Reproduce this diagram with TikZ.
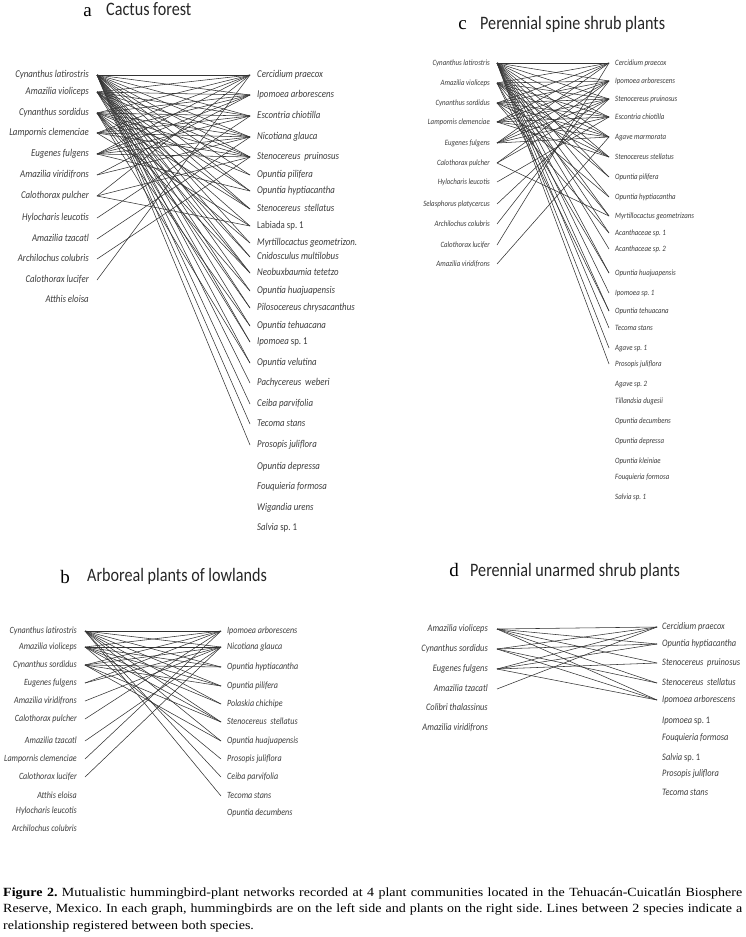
\documentclass[tikz,border=0pt]{standalone}
\usepackage{fontspec}
\setmainfont{Liberation Serif}
\newfontfamily\calf[FakeStretch=0.85]{Carlito}
\newfontfamily\capf[FakeStretch=1.12]{Liberation Serif}
\definecolor{lab}{HTML}{3C3C3C}
\frenchspacing
\tikzset{
  lbl/.style={font=\calf\itshape, text=lab, inner sep=0pt, text height=0.68em, text depth=0.2em},
  lfa/.style={lbl, anchor=east, font=\calf\itshape\fontsize{10.4}{12}\selectfont},
  rfa/.style={lbl, anchor=west, font=\calf\itshape\fontsize{10.4}{12}\selectfont},
  lfb/.style={lbl, anchor=east, font=\calf\itshape\fontsize{9.5}{11}\selectfont},
  rfb/.style={lbl, anchor=west, font=\calf\itshape\fontsize{9.5}{11}\selectfont},
  lfc/.style={lbl, anchor=east, font=\calf\itshape\fontsize{8.1}{10}\selectfont},
  rfc/.style={lbl, anchor=west, font=\calf\itshape\fontsize{8.1}{10}\selectfont},
  lfd/.style={lbl, anchor=east, font=\calf\itshape\fontsize{9.9}{11}\selectfont},
  rfd/.style={lbl, anchor=west, font=\calf\itshape\fontsize{9.9}{11}\selectfont},
  link/.style={line width=0.55pt, draw=black!80},
  ttl/.style={font=\calf\fontsize{19}{22}\selectfont, anchor=base west, inner sep=0pt, text=black!85},
  letter/.style={font=\fontsize{19}{22}\selectfont, anchor=base east, inner sep=0pt},
  captionbox/.style={anchor=north west, inner sep=0pt, text width=739pt, align=justify, font=\capf\fontsize{12.5}{16.3}\selectfont}
}
\begin{document}
\begin{tikzpicture}[x=1pt,y=-1pt]
\useasboundingbox (0,0) rectangle (745,937);

% ---------------- panel a
\node[letter] (ta) at (92,16) {a};
\node[ttl] (tta) at (106,15) {Cactus forest};
\foreach \i/\y/\t in {1/75/Cynanthus latirostris, 2/92/Amazilia violiceps, 3/113/Cynanthus sordidus, 4/133/Lampornis clemenciae, 5/154/Eugenes fulgens, 6/175/Amazilia viridifrons, 7/196/Calothorax pulcher, 8/218/Hylocharis leucotis, 9/239/Amazilia tzacatl, 10/259/Archilochus colubris, 11/280/Calothorax lucifer, 12/300/Atthis eloisa}
  \node[lfa] (al\i) at (89,\y) {\t};
\foreach \i/\y/\t in {1/75/Cercidium praecox, 2/95/Ipomoea arborescens, 3/116/Escontria chiotilla, 4/137/Nicotiana glauca, 5/157/Stenocereus\ \ pruinosus, 6/175/Opuntia pilifera, 7/191/Opuntia hyptiacantha, 8/209/Stenocereus\ \ stellatus, 9/226/{\upshape Labiada sp. 1}, 10/243/Myrtillocactus geometrizon., 11/257/Cnidosculus multilobus, 12/273/Neobuxbaumia tetetzo, 13/291/Opuntia huajuapensis, 14/308/Pilosocereus chrysacanthus, 15/326/Opuntia tehuacana, 16/342/{Ipomoea \upshape sp. 1}, 17/363/Opuntia velutina, 18/383/Pachycereus\ \ weberi, 19/404/Ceiba parvifolia, 20/424/Tecoma stans, 21/445/Prosopis juliflora, 22/467/Opuntia depressa, 23/487/Fouquieria formosa, 24/508/Wigandia urens, 25/528/{Salvia \upshape sp. 1}}
  \node[rfa] (ar\i) at (257,\y) {\t};
\foreach \i/\js in {1/{1,2,3,4,5,6,7,8,10,11,12,13,14,15,16,17,18,19,20,21}, 2/{1,2,3,4,5,7,8,9,11,12,14,16}, 3/{1,2,3,4,5,6,8,10,12,13,15,17}, 4/{1,2,3,4,5,9}, 5/{1,2,3,4,5,7}, 6/{2,4}, 7/{1,5,9}, 8/{3}, 9/{4}, 10/{5}, 11/{1}}
  \foreach \j in \js \draw[link] ([xshift=8pt]al\i.east) -- ([xshift=-7pt]ar\j.west);

% ---------------- panel c
\node[letter] (tc) at (467,29) {c};
\node[ttl] (ttc) at (480,29) {Perennial spine shrub plants};
\foreach \i/\y/\t in {1/63/Cynanthus latirostris, 2/83/Amazilia violiceps, 3/103/Cynanthus sordidus, 4/122/Lampornis clemenciae, 5/143/Eugenes fulgens, 6/163/Calothorax pulcher, 7/182/Hylocharis leucotis, 8/204/Selasphorus platycercus, 9/224/Archilochus colubris, 10/245/Calothorax lucifer, 11/264/Amazilia viridifrons}
  \node[lfc] (cl\i) at (490,\y) {\t};
\foreach \i/\y/\t in {1/63/Cercidium praecox, 2/81/Ipomoea arborescens, 3/99/Stenocereus pruinosus, 4/117/Escontria chiotilla, 5/137/Agave marmorata, 6/157/Stenocereus stellatus, 7/177/Opuntia pilifera, 8/197/Opuntia hyptiacantha, 9/216/Myrtillocactus geometrizans, 10/233/Acanthaceae sp. 1, 11/249/Acanthaceae sp. 2, 12/273/Opuntia huajuapensis, 13/293/Ipomoea sp. 1, 14/311/Opuntia tehuacana, 15/328/Tecoma stans, 16/348/Agave sp. 1, 17/364/Prosopis juliflora, 18/384/Agave sp. 2, 19/401/Tillandsia dugesii, 20/421/Opuntia decumbens, 21/441/Opuntia depressa, 22/461/Opuntia kleiniae, 23/477/Fouquieria formosa, 24/497/Salvia sp. 1}
  \node[rfc] (cr\i) at (615,\y) {\t};
\foreach \i/\js in {1/{1,2,3,4,5,6,7,8,9,10,11,12,13,14,15,16,17}, 2/{1,2,3,4,5,6,7,9,12,14}, 3/{1,2,3,4,5,6,8,10}, 4/{1,2,3,4,5,6}, 5/{1,2,3,4,5}, 6/{2,3,9}, 7/{4}, 8/{3}, 9/{2}, 10/{1}, 11/{5}}
  \foreach \j in \js \draw[link] ([xshift=7pt]cl\i.east) -- ([xshift=-6pt]cr\j.west);

% ---------------- panel b
\node[letter] (tb) at (70,583) {b};
\node[ttl] (ttb) at (87,581) {Arboreal plants of lowlands};
\foreach \i/\y/\t in {1/631/Cynanthus latirostris, 2/647/Amazilia violiceps, 3/665/Cynanthus sordidus, 4/683/Eugenes fulgens, 5/701/Amazilia viridifrons, 6/719/Calothorax pulcher, 7/741/Amazilia tzacatl, 8/759/Lampornis clemenciae, 9/777/Calothorax lucifer, 10/796/Atthis eloisa, 11/811/Hylocharis leucotis, 12/829/Archilochus colubris}
  \node[lfb] (bl\i) at (77,\y) {\t};
\foreach \i/\y/\t in {1/631/Ipomoea arborescens, 2/647/Nicotiana glauca, 3/667/Opuntia hyptiacantha, 4/686/Opuntia pilifera, 5/704/Polaskia chichipe, 6/722/Stenocereus\ \ stellatus, 7/741/Opuntia huajuapensis, 8/759/Prosopis juliflora, 9/777/Ceiba parvifolia, 10/796/Tecoma stans, 11/813/Opuntia decumbens}
  \node[rfb] (br\i) at (227,\y) {\t};
\foreach \i/\js in {1/{1,2,3,4,5,6,7,9,10}, 2/{1,2,3,4,5,6,8}, 3/{1,2,3,4,6,7}, 4/{1,2}, 5/{2}, 6/{1}, 7/{2}, 8/{1}, 9/{2}}
  \foreach \j in \js \draw[link] ([xshift=8pt]bl\i.east) -- ([xshift=-6pt]br\j.west);

% ---------------- panel d
\node[letter] (td) at (459,576) {d};
\node[ttl] (ttd) at (470,576) {Perennial unarmed shrub plants};
\foreach \i/\y/\t in {1/629/Amazilia violiceps, 2/649/Cynanthus sordidus, 3/669/Eugenes fulgens, 4/689/Amazilia tzacatl, 5/708/Colibri thalassinus, 6/728/Amazilia viridifrons}
  \node[lfd] (dl\i) at (488,\y) {\t};
\foreach \i/\y/\t in {1/627/Cercidium praecox, 2/644/Opuntia hyptiacantha, 3/663/Stenocereus\ \ pruinosus, 4/683/Stenocereus\ \ stellatus, 5/700/Ipomoea arborescens, 6/721/{Ipomoea \upshape sp. 1}, 7/738/Fouquieria formosa, 8/758/{Salvia \upshape sp. 1}, 9/774/Prosopis juliflora, 10/793/Tecoma stans}
  \node[rfd] (dr\i) at (662,\y) {\t};
\foreach \i/\js in {1/{1,2,3,4,5}, 2/{1,2,4,5}, 3/{1,2,3,5}, 4/{1}}
  \foreach \j in \js \draw[link] ([xshift=9pt]dl\i.east) -- ([xshift=-5pt]dr\j.west);

% ---------------- caption
\node[captionbox] (caption) at (3,887.5) {\textbf{Figure 2.} Mutualistic hummingbird-plant networks recorded at 4 plant communities located in the Tehuacán-Cuicatlán Biosphere\linebreak Reserve, Mexico. In each graph, hummingbirds are on the left side and plants on the right side. Lines between 2 species indicate a\linebreak relationship registered between both species.};
\end{tikzpicture}
\end{document}
